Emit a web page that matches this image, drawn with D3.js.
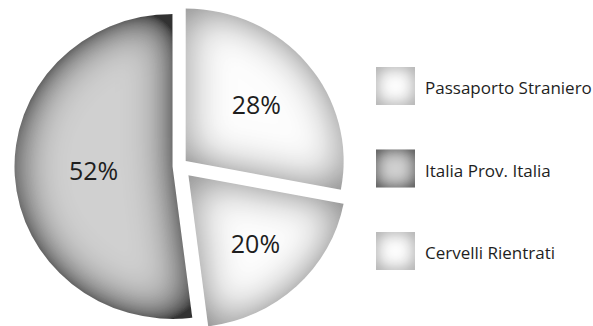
<!DOCTYPE html>
<html lang="en">
  <head>
    <meta charset="UTF-8">
    <title>Passaporto</title>
    <style>
      body { margin: 0; background: #fff; }
      svg { display: block; font-family: "Open Sans", "Noto Sans", sans-serif; }
    </style>
  </head>
  <body>
    <div id="chart"></div>
    <script src="https://d3js.org/d3.v7.min.js"></script>
    <script>
      // legend order
      const categories = ["Passaporto Straniero", "Italia Prov. Italia", "Cervelli Rientrati"];
      const values = [28, 52, 20];
      const pctLabels = ["28%", "52%", "20%"];
      // clockwise order of the slices starting at 12 o'clock
      const pieOrder = ["Passaporto Straniero", "Cervelli Rientrati", "Italia Prov. Italia"];

      const width = 593, height = 326;
      const cx = 179.5, cy = 166;
      const r = 158, squash = 0.965;

      // look of each slice
      const styles = {
        "Passaporto Straniero": { base: "#fdfdfd", dark: false, explode: 8, label: 0.58 },
        "Cervelli Rientrati":   { base: "#fdfdfd", dark: false, explode: 13, label: 0.62 },
        "Italia Prov. Italia":  { base: "#d0d0d0", dark: true, explode: 7, label: 0.5 }
      };

      const svg = d3.select("#chart").append("svg")
        .attr("width", width)
        .attr("height", height);

      const defs = svg.append("defs");

      // inner shadow: darker toward every edge of a shape
      function innerShade(id, blur, opacity, gain) {
        const f = defs.append("filter").attr("id", id)
          .attr("x", "-20%").attr("y", "-20%").attr("width", "140%").attr("height", "140%");
        f.append("feFlood").attr("flood-color", "#111").attr("flood-opacity", 1).attr("result", "c");
        f.append("feComposite").attr("in", "c").attr("in2", "SourceAlpha").attr("operator", "out").attr("result", "inv");
        f.append("feGaussianBlur").attr("in", "inv").attr("stdDeviation", blur).attr("result", "b");
        f.append("feComponentTransfer").attr("in", "b").attr("result", "bb")
          .append("feFuncA").attr("type", "linear").attr("slope", gain).attr("intercept", 0);
        f.append("feComposite").attr("in", "bb").attr("in2", "SourceAlpha").attr("operator", "arithmetic")
          .attr("k1", opacity).attr("k2", 0).attr("k3", 0).attr("k4", 0).attr("result", "s");
        const m = f.append("feMerge");
        m.append("feMergeNode").attr("in", "SourceGraphic");
        m.append("feMergeNode").attr("in", "s");
      }
      innerShade("shadeLight", 22, 0.8, 1.2);
      innerShade("shadeDark", 24, 0.95, 1.6);
      innerShade("boxLight", 8, 0.8, 1.3);
      innerShade("boxDark", 8, 0.95, 1.7);

      const pieData = pieOrder.map(c => ({ cat: c, value: values[categories.indexOf(c)] }));
      const pie = d3.pie().sort(null).value(d => d.value);
      const arcs = pie(pieData);
      const arc = d3.arc().innerRadius(0).outerRadius(r);

      function offset(d, dist) {
        const a = (d.startAngle + d.endAngle) / 2;
        return [dist * Math.sin(a), -dist * Math.cos(a)];
      }

      const g = svg.append("g")
        .attr("transform", "translate(" + cx + "," + cy + ") scale(1," + squash + ")");

      g.selectAll("path.slice")
        .data(arcs)
        .enter()
        .append("path")
        .attr("class", "slice")
        .attr("transform", d => {
          const o = offset(d, styles[d.data.cat].explode);
          return "translate(" + o[0] + "," + o[1] + ")";
        })
        .attr("d", arc)
        .attr("fill", d => styles[d.data.cat].base)
        .attr("filter", d => styles[d.data.cat].dark ? "url(#shadeDark)" : "url(#shadeLight)");

      // percentage labels
      function labelPos(d) {
        const s = styles[d.data.cat];
        const o = offset(d, s.explode);
        const l = offset(d, r * s.label);
        return [cx + o[0] + l[0], cy + (o[1] + l[1]) * squash];
      }

      svg.selectAll("text.pct")
        .data(arcs)
        .enter()
        .append("text")
        .attr("class", "pct")
        .attr("x", d => labelPos(d)[0])
        .attr("y", d => labelPos(d)[1])
        .attr("dy", "0.36em")
        .attr("text-anchor", "middle")
        .style("font-size", "25px")
        .style("fill", "#1e1e1e")
        .text(d => pctLabels[categories.indexOf(d.data.cat)]);

      // legend
      const ly = d3.scalePoint().domain(categories).range([86, 251]);
      const item = svg.append("g").selectAll("g")
        .data(categories)
        .enter()
        .append("g")
        .attr("transform", d => "translate(376," + ly(d) + ")");

      item.append("rect")
        .attr("x", 0)
        .attr("y", -19)
        .attr("width", 39)
        .attr("height", 38)
        .attr("fill", d => styles[d].base)
        .attr("filter", d => styles[d].dark ? "url(#boxDark)" : "url(#boxLight)");

      item.append("text")
        .attr("x", 49)
        .attr("y", 8)
        .style("font-size", "17px")
        .style("fill", "#1e1e1e")
        .text(d => d);
    </script>
  </body>
</html>
